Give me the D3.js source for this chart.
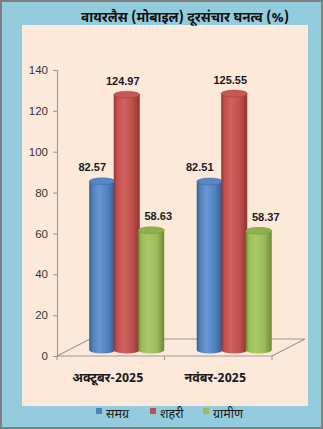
<!DOCTYPE html>
<html><head><meta charset="utf-8">
<script src="https://cdn.jsdelivr.net/npm/d3@7"></script>
<style>
html,body{margin:0;padding:0;background:#fff;}
svg{display:block;}
</style></head>
<body>
<script>
const title = "वायरलैस (मोबाइल) दूरसंचार घनत्व (%)";
const categories = ["अक्टूबर-2025", "नवंबर-2025"];
const seriesNames = ["समग्र", "शहरी", "ग्रामीण"];
const samagra = [82.57, 82.51];
const shahari = [124.97, 125.55];
const gramin = [58.63, 58.37];
const yTicks = [0, 20, 40, 60, 80, 100, 120, 140];

const seriesValues = [samagra, shahari, gramin];
const colors = [
  {base:"#4F81BD", light:"#6A97D0", dark:"#34598A", top:"#5587C6"},
  {base:"#C0504D", light:"#D2625F", dark:"#8E3532", top:"#C65754"},
  {base:"#9BBB59", light:"#AAC869", dark:"#6E8B35", top:"#8FB04F"}
];
const labelDx = [-10, -4, 7];

const W = 323, H = 429;
const devFont = "'Noto Sans Devanagari','Lohit Devanagari','Mangal','Noto Sans','DejaVu Sans',sans-serif";
const numFont = "'Liberation Sans',Arial,sans-serif";

const svg = d3.select("body").append("svg").attr("width", W).attr("height", H);
const defs = svg.append("defs");

// backgrounds
svg.append("rect").attr("x",0).attr("y",0).attr("width",W).attr("height",H).attr("fill","#7F7F7F");
svg.append("rect").attr("x",2).attr("y",2).attr("width",W-4).attr("height",H-4).attr("fill","#93CDDD");
svg.append("rect").attr("x",22).attr("y",25).attr("width",286).attr("height",381).attr("fill","#FDE9D9");

// title
svg.append("text").attr("x",185).attr("y",22).attr("text-anchor","middle")
  .attr("font-family",devFont).attr("font-weight","bold").attr("font-size",13.5)
  .attr("fill","#111").text(title);

// scales
const y = d3.scaleLinear().domain([0,140]).range([356,70]);
const x0 = d3.scaleBand().domain(categories).range([57,272]).paddingInner(0).paddingOuter(0);
const innerPad = 17;
const x1 = d3.scaleBand().domain(seriesNames).range([innerPad, x0.bandwidth()-innerPad]).padding(0);
const depthDx = 33, depthDy = -17; // back of floor offset
const barDx = 16, barDy = -6;

// floor
const floorG = svg.append("g").attr("stroke","#9A9A9A").attr("stroke-width",1.1).attr("fill","none");
const fx0 = x0.range()[0], fx1 = x0.range()[1], fy = y(0);
floorG.append("path").attr("d",
  `M${fx0},${fy} L${fx0+depthDx},${fy+depthDy} L${fx1+depthDx},${fy+depthDy} L${fx1},${fy}`);
floorG.append("line").attr("x1",fx0).attr("y1",fy).attr("x2",fx1).attr("y2",fy);
const tickXs = [fx0].concat(categories.map(c => x0(c)+x0.bandwidth()));
tickXs.forEach(tx => floorG.append("line").attr("x1",tx).attr("x2",tx).attr("y1",fy).attr("y2",fy+4));

// y axis
const yAxis = d3.axisLeft(y).tickValues(yTicks).tickSize(4).tickPadding(5);
const yg = svg.append("g").attr("transform","translate(57,0)").call(yAxis);
yg.select(".domain").attr("stroke","#9A9A9A").attr("stroke-width",1.1);
yg.selectAll(".tick line").attr("stroke","#9A9A9A").attr("stroke-width",1.1);
yg.selectAll(".tick text").attr("font-family",numFont).attr("font-size",11.5).attr("fill","#333");

// gradients
colors.forEach((c,i) => {
  const g = defs.append("linearGradient").attr("id","grad"+i).attr("x1","0").attr("x2","1").attr("y1","0").attr("y2","0");
  g.append("stop").attr("offset","0%").attr("stop-color",c.dark);
  g.append("stop").attr("offset","12%").attr("stop-color",c.base);
  g.append("stop").attr("offset","38%").attr("stop-color",c.light);
  g.append("stop").attr("offset","72%").attr("stop-color",c.base);
  g.append("stop").attr("offset","100%").attr("stop-color",c.dark);
});

// bars (cylinders)
const bw = x1.bandwidth();
const overlap = 1.5;
const ry = 3.5;
const barsG = svg.append("g");
categories.forEach((cat, ci) => {
  seriesNames.forEach((s, si) => {
    const v = seriesValues[si][ci];
    const left = x0(cat) + x1(s) + barDx - overlap/2;
    const w = bw + overlap;
    const cx = left + w/2;
    const yTop = y(v) + barDy;
    const yBot = y(0) + barDy;
    const g = barsG.append("g");
    g.append("path")
      .attr("d", `M${left},${yTop} L${left},${yBot} A${w/2},${ry} 0 0 0 ${left+w},${yBot} L${left+w},${yTop} Z`)
      .attr("fill", `url(#grad${si})`);
    g.append("ellipse").attr("cx",cx).attr("cy",yTop).attr("rx",w/2).attr("ry",ry)
      .attr("fill", colors[si].top).attr("stroke", colors[si].dark).attr("stroke-width",0.4);
    svg.append("text").attr("class","lbl")
      .attr("x", cx + labelDx[si]).attr("y", yTop - 10)
      .attr("text-anchor","middle").attr("font-family",numFont).attr("font-weight","bold")
      .attr("font-size",11).attr("fill","#1a1a1a").text(v.toFixed(2));
  });
});
svg.selectAll("text.lbl").raise();

// category labels
categories.forEach(cat => {
  svg.append("text").attr("x", x0(cat)+x0.bandwidth()/2 - 3).attr("y", 382)
    .attr("text-anchor","middle").attr("font-family",devFont).attr("font-weight","bold")
    .attr("font-size",12.5).attr("fill","#1a1a1a").text(cat);
});

// legend
const legX = [96, 150, 203];
seriesNames.forEach((s,i) => {
  svg.append("rect").attr("x",legX[i]).attr("y",408).attr("width",6).attr("height",6).attr("fill",colors[i].base);
  svg.append("text").attr("x",legX[i]+10).attr("y",418).attr("font-family",devFont)
    .attr("font-size",12.5).attr("fill","#1a1a1a").text(s);
});
</script>
</body></html>
